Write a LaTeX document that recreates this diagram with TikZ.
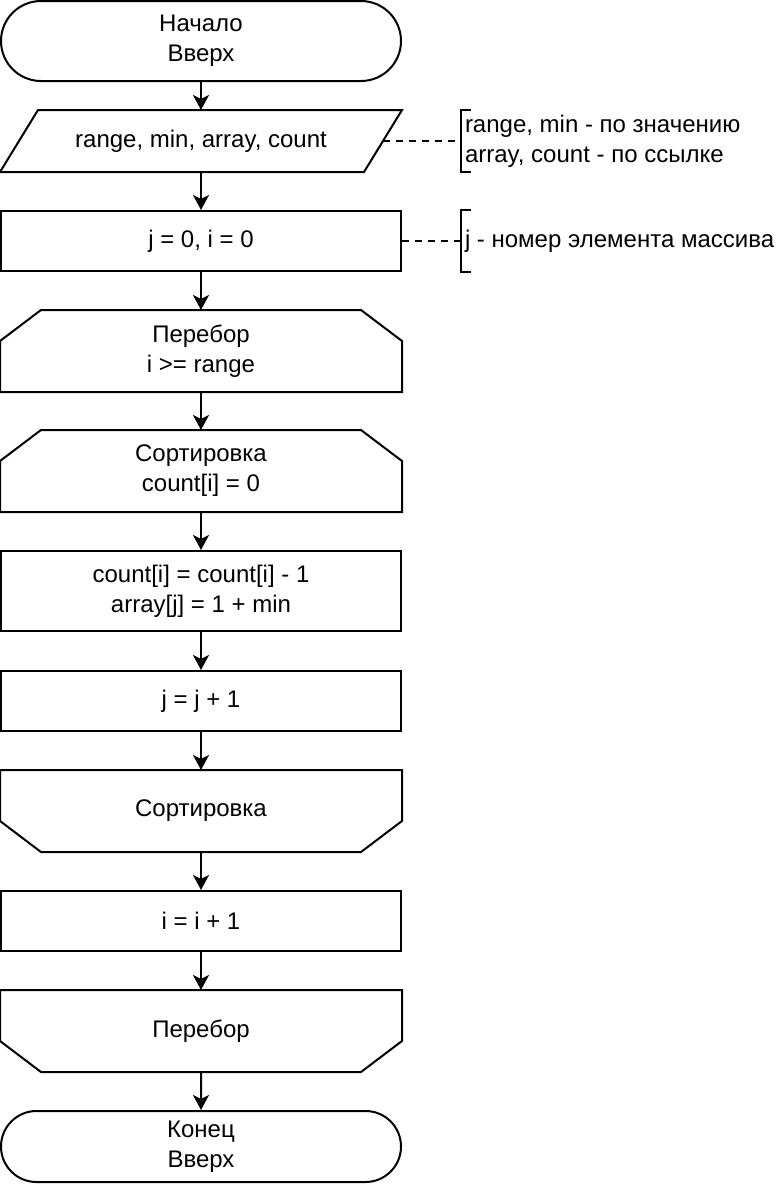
\documentclass[tikz,border=0pt]{standalone}
\usepackage{fontspec}
\setmainfont{Liberation Sans}
\usetikzlibrary{arrows.meta,calc,shapes.misc}
% outlines drawn round a named node
\newcommand{\limtop}[1]{\draw (#1.south west) -- ($(#1.north west)+(0,31)$) -- ($(#1.north west)+(41,0)$) -- ($(#1.north east)+(-41,0)$) -- ($(#1.north east)+(0,31)$) -- (#1.south east) -- cycle;}
\newcommand{\limbot}[1]{\draw (#1.north west) -- ($(#1.south west)+(0,-31)$) -- ($(#1.south west)+(41,0)$) -- ($(#1.south east)+(-41,0)$) -- ($(#1.south east)+(0,-31)$) -- (#1.north east) -- cycle;}
\newcommand{\ioshape}[1]{\draw (#1.south west) -- ($(#1.north west)+(38,0)$) -- (#1.north east) -- ($(#1.south east)+(-38,0)$) -- cycle;}
\newcommand{\bracket}[1]{\draw ($(#1.north west)+(10,0)$) -- (#1.north west) -- (#1.south west) -- ($(#1.south west)+(10,0)$);}

\begin{document}
\begin{tikzpicture}[x=1pt,y=-1pt,line width=2pt,
  font=\fontsize{24}{30}\selectfont,
  blk/.style={rectangle,minimum width=400pt,minimum height=60pt,align=center,inner sep=0pt},
  term/.style={rounded rectangle,draw,minimum width=400pt,minimum height=80pt,align=center,inner sep=0pt},
  note/.style={rectangle,minimum height=60pt,align=left,anchor=west,inner sep=3pt},
  arr/.style={-{Stealth[length=15pt,width=16pt,inset=4pt]}},
  cmt/.style={line width=1.5pt,dash pattern=on 7pt off 6pt}]
\useasboundingbox (0,0) rectangle (776,1184);
% main column
\node[term] (start) at (201,41) {Начало\\Вверх};
\node[blk] (io) at (201,141) {range, min, array, count};
\ioshape{io}
\node[blk,draw] (init) at (201,241) {j = 0, i = 0};
\node[blk,minimum height=80pt] (forA) at (201,351) {Перебор\\i >= range};
\limtop{forA}
\node[blk,minimum height=80pt] (forB) at (201,471) {Сортировка\\count[i] = 0};
\limtop{forB}
\node[blk,draw,minimum height=80pt] (body) at (201,591) {count[i] = count[i] - 1\\array[j] = 1 + min};
\node[blk,draw] (incj) at (201,701) {j = j + 1};
\node[blk,minimum height=80pt] (endB) at (201,811) {Сортировка};
\limbot{endB}
\node[blk,draw] (inci) at (201,921) {i = i + 1};
\node[blk,minimum height=80pt] (endA) at (201,1031) {Перебор};
\limbot{endA}
\node[term,minimum height=71pt] (stop) at (201,1146.5) {Конец\\Вверх};
% arrows
\draw[arr] (start) -- (io);
\draw[arr] (io) -- (init);
\draw[arr] (init) -- (forA);
\draw[arr] (forA) -- (forB);
\draw[arr] (forB) -- (body);
\draw[arr] (body) -- (incj);
\draw[arr] (incj) -- (endB);
\draw[arr] (endB) -- (inci);
\draw[arr] (inci) -- (endA);
\draw[arr] (endA) -- (stop);
% comments
\node[note] (n1) at (461,141) {range, min - по значению\\array, count - по ссылке};
\bracket{n1}
\node[note] (n2) at (461,241) {j - номер элемента массива};
\bracket{n2}
\coordinate (ioR) at ($(io.east)+(-19,0)$);
\draw[cmt] (ioR) -- (n1.west);
\draw[cmt] (init.east) -- (n2.west);
\end{tikzpicture}
\end{document}
